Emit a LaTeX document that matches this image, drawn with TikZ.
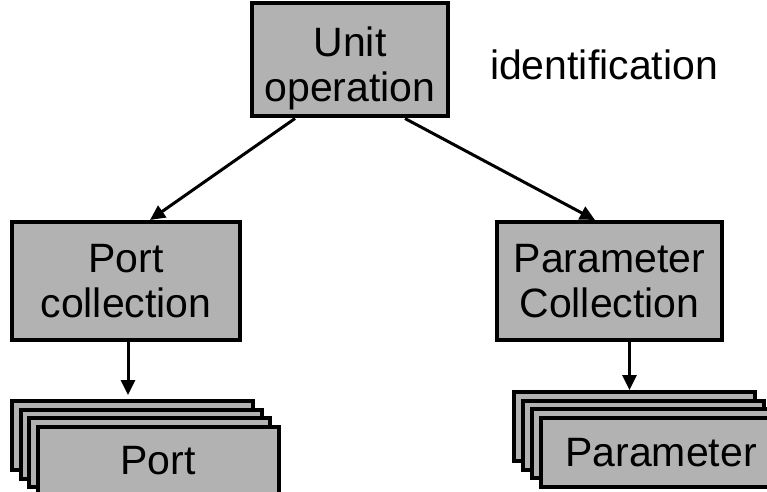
\documentclass[tikz,border=0pt]{standalone}
\usepackage{fontspec}
\setmainfont{Liberation Sans}
\usetikzlibrary{arrows.meta}
\tikzset{
  box/.style={draw, line width=2pt, fill=black!30, align=center, inner sep=0pt},
  stackbox/.style={box, minimum width=120.5pt, minimum height=34.5pt},
  link/.style={line width=1.5pt, -{Triangle[width=7pt,length=7.5pt]}}
}
\begin{document}
\begin{tikzpicture}[x=0.5pt, y=-0.5pt, font=\fontsize{20.5}{22.5}\selectfont]
	\useasboundingbox (0,0) rectangle (767,492);
	\clip (0,0) rectangle (767,492);
	\node[box, minimum width=98pt, minimum height=56.5pt] (unit) at (350,60)
		{\raisebox{-5pt}[\height][\depth]{\begin{tabular}{@{}c@{}}Unit\\operation\end{tabular}}};
	\node (ident) at (604,65) {identification};
	\node[box, minimum width=114pt, minimum height=59pt] (portcol) at (126,281) {Port\\collection};
	\node[box, minimum width=112.5pt, minimum height=59pt] (parcol) at (609.5,281) {Parameter\\Collection};
	
	\node[stackbox] (port1) at (132.5,435.5) {};
	\node[stackbox] (port2) at (141,444) {};
	\node[stackbox] (port3) at (149.5,452.5) {};
	\node[stackbox] (port4) at (158,461) {Port};
	
	\node[stackbox] (par1) at (634,426.5) {};
	\node[stackbox] (par2) at (643,435.2) {};
	\node[stackbox] (par3) at (652,443.9) {};
	\node[stackbox] (par4) at (661,452.6) {Parameter};
	
	\draw[link] ([xshift=-27.5pt]unit.south) -- ([xshift=12pt]portcol.north);
	\draw[link] ([xshift=27.5pt]unit.south) -- ([xshift=-7.25pt]parcol.north);
	\draw[link, shorten >=2pt] ([xshift=1pt]portcol.south) -- ([xshift=1pt]portcol.south |- port1.north);
	\draw[link] ([xshift=10pt]parcol.south) -- ([xshift=10pt]parcol.south |- par1.north);
\end{tikzpicture}
\end{document}
